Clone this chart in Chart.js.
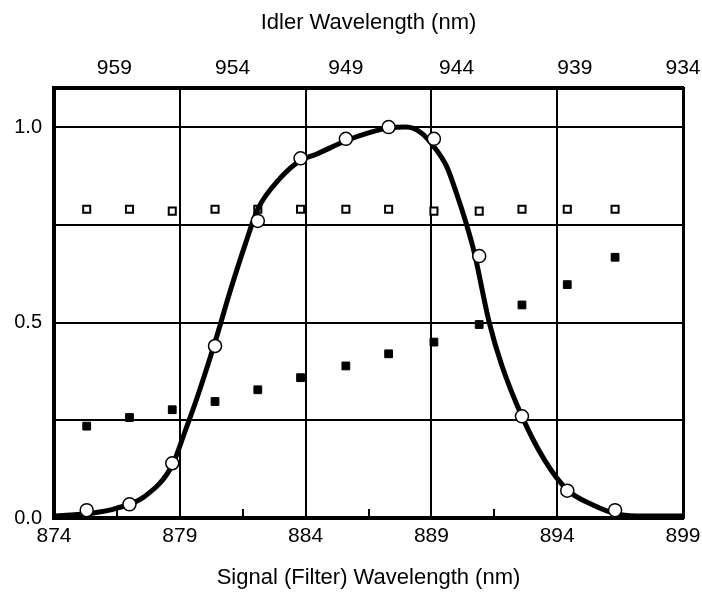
<!DOCTYPE html>
<html>
<head>
<meta charset="utf-8">
<title>Signal / Idler Wavelength</title>
<script src="https://cdn.jsdelivr.net/npm/chart.js@4.4.1/dist/chart.umd.min.js"></script>
<style>
  html, body { margin: 0; padding: 0; background: #fff; }
  #wrap { width: 702px; height: 595px; }
</style>
</head>
<body>
<div id="wrap"><canvas id="waveChart" width="702" height="595"></canvas></div>
<script>
// measured points, all three series share the same filter positions (nm)
const signalNm = [875.3, 877.0, 878.7, 880.4, 882.1, 883.8, 885.6, 887.3, 889.1, 890.9, 892.6, 894.4, 896.3];
const openCircles = [0.02, 0.035, 0.14, 0.44, 0.76, 0.92, 0.97, 1.0, 0.97, 0.67, 0.26, 0.07, 0.02];
const openSquares = [0.79, 0.79, 0.785, 0.79, 0.79, 0.79, 0.79, 0.79, 0.785, 0.785, 0.79, 0.79, 0.79];
const filledSquares = [0.235, 0.257, 0.277, 0.298, 0.328, 0.359, 0.389, 0.42, 0.45, 0.495, 0.545, 0.597, 0.667];

// thick fitted curve
const curveNm = [874.0, 875.5, 876.5, 877.6, 878.7, 879.2, 879.7, 880.4, 881.0, 881.6, 882.1, 883.0, 883.8, 884.4,
                 885.6, 886.5, 887.3, 888.0, 888.6, 889.1, 889.6, 890.0, 890.4, 890.7, 891.3, 891.8, 892.6, 893.5,
                 894.4, 895.4, 896.4, 897.5, 899.0];
const curveVal = [0.005, 0.012, 0.025, 0.055, 0.135, 0.22, 0.31, 0.45, 0.58, 0.70, 0.79, 0.87, 0.915, 0.93,
                  0.965, 0.985, 0.998, 1.0, 0.985, 0.95, 0.90, 0.83, 0.75, 0.68, 0.5, 0.39, 0.26, 0.148,
                  0.072, 0.034, 0.01, 0.005, 0.005];

// axes
const signalMajor = [874, 879, 884, 889, 894, 899];
const signalMinor = [876.5, 881.5, 886.5, 891.5, 896.5];
const yTicks = [0, 0.25, 0.5, 0.75, 1.0];
const yLabelled = [0, 0.5, 1.0];
const idlerLabels = ['959', '954', '949', '944', '939', '934'];
const idlerAtSignal = [876.4, 881.1, 885.6, 890.0, 894.7, 899.0];

document.addEventListener('DOMContentLoaded', function() {
    const ctx = document.getElementById('waveChart').getContext('2d');

    Chart.defaults.font.family = '"Liberation Sans", Arial, sans-serif';
    Chart.defaults.color = '#000';

    const toPoints = (xs, ys) => xs.map((x, i) => ({ x: x, y: ys[i] }));
    const isMajor = v => signalMajor.some(m => Math.abs(m - v) < 1e-6);

    // fixed box sizes so the plot frame lands where the original one is
    function fixHeight(h) {
        return axis => {
            axis.height = h;
            axis.paddingLeft = 0;
            axis.paddingRight = 0;
        };
    }

    new Chart(ctx, {
        type: 'scatter',
        data: {
            datasets: [
                {
                    label: 'open circles',
                    data: toPoints(signalNm, openCircles),
                    pointStyle: 'circle',
                    pointRadius: 6.5,
                    pointBackgroundColor: '#fff',
                    pointBorderColor: '#000',
                    pointBorderWidth: 1.5
                },
                {
                    label: 'fit',
                    data: toPoints(curveNm, curveVal),
                    showLine: true,
                    borderColor: '#000',
                    borderWidth: 5,
                    pointRadius: 0,
                    cubicInterpolationMode: 'monotone'
                },
                {
                    label: 'open squares',
                    data: toPoints(signalNm, openSquares),
                    pointStyle: 'rect',
                    pointRadius: 5,
                    pointBackgroundColor: '#fff',
                    pointBorderColor: '#000',
                    pointBorderWidth: 2
                },
                {
                    label: 'filled squares',
                    data: toPoints(signalNm, filledSquares),
                    pointStyle: 'rect',
                    pointRadius: 5.5,
                    pointBackgroundColor: '#000',
                    pointBorderColor: '#000',
                    pointBorderWidth: 1
                }
            ]
        },
        options: {
            responsive: false,
            animation: false,
            devicePixelRatio: 1,
            layout: { padding: 0 },
            scales: {
                x: {
                    type: 'linear',
                    position: 'bottom',
                    min: 874,
                    max: 899,
                    afterBuildTicks: axis => {
                        axis.ticks = signalMajor.concat(signalMinor).sort((a, b) => a - b).map(v => ({ value: v }));
                    },
                    afterFit: fixHeight(77),
                    ticks: {
                        padding: 15,
                        maxRotation: 0,
                        autoSkip: false,
                        font: { size: 21 },
                        callback: v => isMajor(v) ? String(v) : ''
                    },
                    grid: {
                        color: c => (c.tick && isMajor(c.tick.value)) ? '#000' : 'rgba(0,0,0,0)',
                        lineWidth: 2,
                        tickColor: '#000',
                        tickWidth: 2,
                        tickLength: -9
                    },
                    border: { color: '#000', width: 4 },
                    title: {
                        display: true,
                        text: 'Signal (Filter) Wavelength (nm)',
                        font: { size: 22 },
                        padding: { top: 0, bottom: 4 }
                    }
                },
                x2: {
                    type: 'linear',
                    position: 'top',
                    min: 874,
                    max: 899,
                    afterBuildTicks: axis => {
                        axis.ticks = idlerAtSignal.map(v => ({ value: v }));
                    },
                    afterFit: fixHeight(88),
                    ticks: {
                        padding: 7,
                        maxRotation: 0,
                        autoSkip: false,
                        font: { size: 21 },
                        callback: (v, i) => idlerLabels[i]
                    },
                    grid: { drawOnChartArea: false, drawTicks: false },
                    border: { color: '#000', width: 4 },
                    title: {
                        display: true,
                        text: 'Idler Wavelength (nm)',
                        font: { size: 22 },
                        padding: { top: 10, bottom: 0 }
                    }
                },
                y: {
                    type: 'linear',
                    min: 0,
                    max: 1.1,
                    afterBuildTicks: axis => {
                        axis.ticks = yTicks.map(v => ({ value: v }));
                    },
                    afterFit: axis => { axis.width = 54; },
                    ticks: {
                        padding: 12,
                        font: { size: 20 },
                        callback: v => yLabelled.some(l => Math.abs(l - v) < 1e-6) ? v.toFixed(1) : ''
                    },
                    grid: { color: '#000', lineWidth: 2, drawTicks: false },
                    border: { color: '#000', width: 4 }
                },
                yRight: {
                    type: 'linear',
                    position: 'right',
                    min: 0,
                    max: 1.1,
                    afterFit: axis => { axis.width = 19; },
                    ticks: { display: false },
                    grid: { drawOnChartArea: false, drawTicks: false },
                    border: { color: '#000', width: 3 }
                }
            },
            plugins: {
                legend: { display: false },
                tooltip: { enabled: false }
            }
        }
    });
});
</script>
</body>
</html>
